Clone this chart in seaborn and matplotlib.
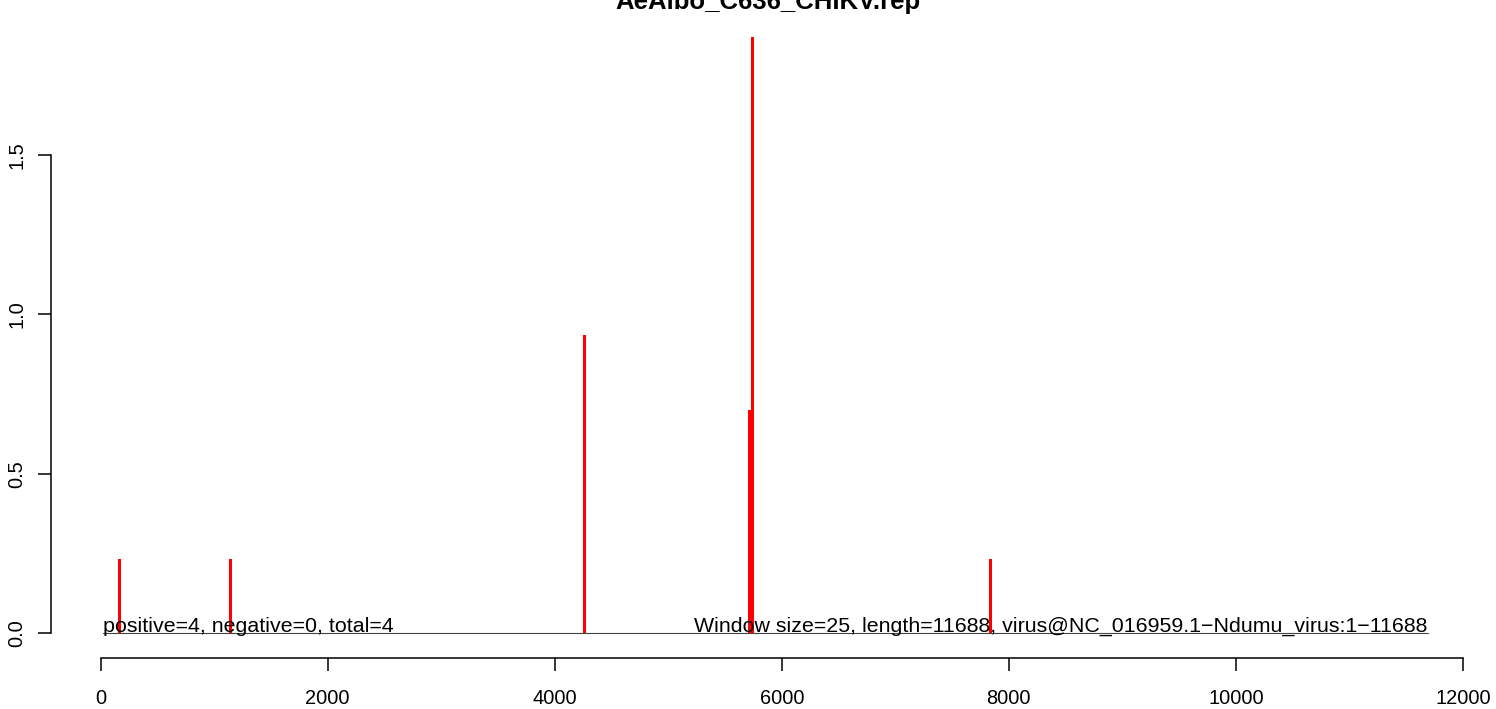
import numpy as np
import pandas as pd
import matplotlib
matplotlib.use("Agg")
import matplotlib.pyplot as plt
import seaborn as sns

# ==========================================
# Data
# ==========================================

title = "AeAlbo_C636_CHIKV.rep"
positions = [164, 1142, 4259, 5717, 5742, 7836]
depths = [0.232, 0.232, 0.935, 0.701, 1.870, 0.232]
genome_start = 25
genome_length = 11688
x_ticks = [0, 2000, 4000, 6000, 8000, 10000, 12000]
y_ticks = [0.0, 0.5, 1.0, 1.5]
left_note = "positive=4, negative=0, total=4"
right_note = "Window size=25, length=11688, virus@NC_016959.1\u2212Ndumu_virus:1\u221211688"

# ==========================================
# Figure
# ==========================================

sns.set_style("white")
plt.rcParams["font.family"] = ["Liberation Sans", "DejaVu Sans"]
plt.rcParams["text.color"] = "black"
plt.rcParams["xtick.color"] = "black"
plt.rcParams["ytick.color"] = "black"

fig = plt.figure(figsize=(14.96, 7.09), dpi=100)
ax = fig.add_axes([0.03376, 0.07193, 0.9559, 0.9069])

frame = pd.DataFrame({"pos": positions, "depth": depths})

sns.barplot(
    data=frame,
    x="pos",
    y="depth",
    native_scale=True,
    color="red",
    saturation=1,
    width=1,
    linewidth=0,
    errorbar=None,
    ax=ax
)

# baseline along the genome
ax.plot([genome_start, genome_length], [0, 0], color="#444444", lw=0.8, zorder=1)

ax.text(genome_start, 0.004, left_note, ha="left", va="baseline",
        fontsize=15.4, color="black")
ax.text(genome_length, 0.004, right_note, ha="right", va="baseline",
        fontsize=15.4, color="black")

ax.set_xlim(-441.5, 12154.5)
ax.set_ylim(-0.0775, 1.939)

ax.set_xticks(x_ticks)
ax.set_xticklabels([str(t) for t in x_ticks])
ax.set_yticks(y_ticks)
ax.set_yticklabels([f"{t:.1f}" for t in y_ticks])
for lab in ax.get_yticklabels():
    lab.set_rotation(90)
    lab.set_va("center")
    lab.set_ha("right")

ax.set_xlabel("")
ax.set_ylabel("")

for side in ["top", "right"]:
    ax.spines[side].set_visible(False)
ax.spines["left"].set_bounds(0, 1.5)
ax.spines["bottom"].set_bounds(0, 12000)
for side in ["left", "bottom"]:
    ax.spines[side].set_color("black")
    ax.spines[side].set_linewidth(1.1)

ax.tick_params(axis="x", direction="out", length=9.4, width=1.1, color="black",
               labelcolor="black", labelsize=14.4, pad=13, bottom=True)
ax.tick_params(axis="y", direction="out", length=9.4, width=1.1, color="black",
               labelcolor="black", labelsize=14.4, pad=8, left=True)

fig.text(768 / 1496, 1 - 9 / 709, title, ha="center", va="baseline",
         fontsize=18.5, fontweight="bold", color="black")

fig.savefig("out.png", dpi=100)
